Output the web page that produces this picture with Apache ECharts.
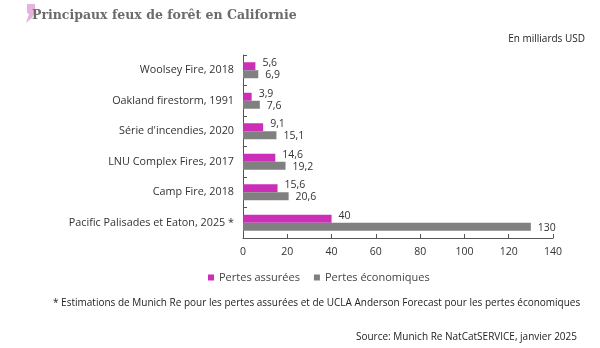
<!DOCTYPE html>
<html>
<head>
<meta charset="utf-8">
<script src="https://cdn.jsdelivr.net/npm/echarts@6/dist/echarts.min.js"></script>
<style>
  html, body { margin: 0; padding: 0; background: #ffffff; }
  #chart { width: 600px; height: 348px; }
</style>
</head>
<body>
<div id="chart"></div>
<script>
// Biggest California wildfires, losses in billions of USD
const categories = [
  'Woolsey Fire, 2018',
  'Oakland firestorm, 1991',
  "Série d'incendies, 2020",
  'LNU Complex Fires, 2017',
  'Camp Fire, 2018',
  'Pacific Palisades et Eaton, 2025 *'
];
const insuredLosses = [5.6, 3.9, 9.1, 14.6, 15.6, 40];
const economicLosses = [6.9, 7.6, 15.1, 19.2, 20.6, 130];
const xTicks = [0, 20, 40, 60, 80, 100, 120, 140];

const FONT = 'Open Sans';
const PINK = '#cc2eb8';
const GREY = '#808080';
const AXIS = '#555555';

const fmt = v => String(v).replace('.', ',');

const chart = echarts.init(document.getElementById('chart'), null, { renderer: 'canvas' });

chart.setOption({
  backgroundColor: '#ffffff',
  animation: false,
  title: {
    text: 'Principaux feux de forêt en Californie',
    left: 27,
    top: 4,
    textStyle: { fontFamily: 'DejaVu Serif', fontWeight: 'bold', fontSize: 12.5, color: '#6b6b6b' }
  },
  graphic: [
    {
      type: 'polygon',
      z: -1,
      shape: { points: [[27, 4], [35, 4], [35, 12], [32, 18], [26, 23], [29, 14], [27, 13]] },
      style: { fill: '#e3a6d8', opacity: 0.85 }
    },
    {
      type: 'text',
      right: 15,
      top: 34,
      style: { text: 'En milliards USD', font: '10px "' + FONT + '"', fill: '#222' }
    },
    {
      type: 'text',
      left: 53,
      top: 298,
      style: {
        text: '* Estimations de Munich Re pour les pertes assurées et de UCLA Anderson Forecast pour les pertes économiques',
        font: '10px "' + FONT + '"', fill: '#222'
      }
    },
    {
      type: 'text',
      right: 23,
      top: 332,
      style: { text: 'Source: Munich Re NatCatSERVICE, janvier 2025', font: '10px "' + FONT + '"', fill: '#222' }
    }
  ],
  legend: {
    top: 267,
    left: 203,
    itemWidth: 6,
    itemHeight: 6,
    itemGap: 14,
    icon: 'rect',
    textStyle: { fontFamily: FONT, fontSize: 11, color: '#444' },
    data: ['Pertes assurées', 'Pertes économiques']
  },
  grid: { left: 243, right: 47, top: 55, bottom: 110, containLabel: false },
  xAxis: {
    type: 'value',
    min: xTicks[0],
    max: xTicks[xTicks.length - 1],
    interval: 20,
    splitLine: { show: false },
    axisLine: { show: true, lineStyle: { color: AXIS, width: 1 } },
    axisTick: { show: true, inside: true, length: 4, lineStyle: { color: AXIS } },
    axisLabel: { fontFamily: FONT, fontSize: 10.5, color: '#333', margin: 9 }
  },
  yAxis: {
    type: 'category',
    inverse: true,
    data: categories,
    axisLine: { show: true, lineStyle: { color: AXIS, width: 1 } },
    axisTick: { show: true, inside: true, length: 4, lineStyle: { color: AXIS } },
    axisLabel: { fontFamily: FONT, fontSize: 10.8, color: '#333', margin: 9 }
  },
  series: [
    {
      name: 'Pertes assurées',
      type: 'bar',
      data: insuredLosses,
      barWidth: 8,
      barGap: '0%',
      itemStyle: { color: PINK },
      label: {
        show: true,
        position: 'right',
        distance: 7,
        offset: [0, -3],
        fontFamily: FONT,
        fontSize: 10.5,
        color: '#333',
        formatter: p => fmt(p.value)
      }
    },
    {
      name: 'Pertes économiques',
      type: 'bar',
      data: economicLosses,
      barWidth: 8,
      barGap: '0%',
      itemStyle: { color: GREY },
      label: {
        show: true,
        position: 'right',
        distance: 7,
        offset: [0, 1],
        fontFamily: FONT,
        fontSize: 10.5,
        color: '#333',
        formatter: p => fmt(p.value)
      }
    }
  ]
});
</script>
</body>
</html>
